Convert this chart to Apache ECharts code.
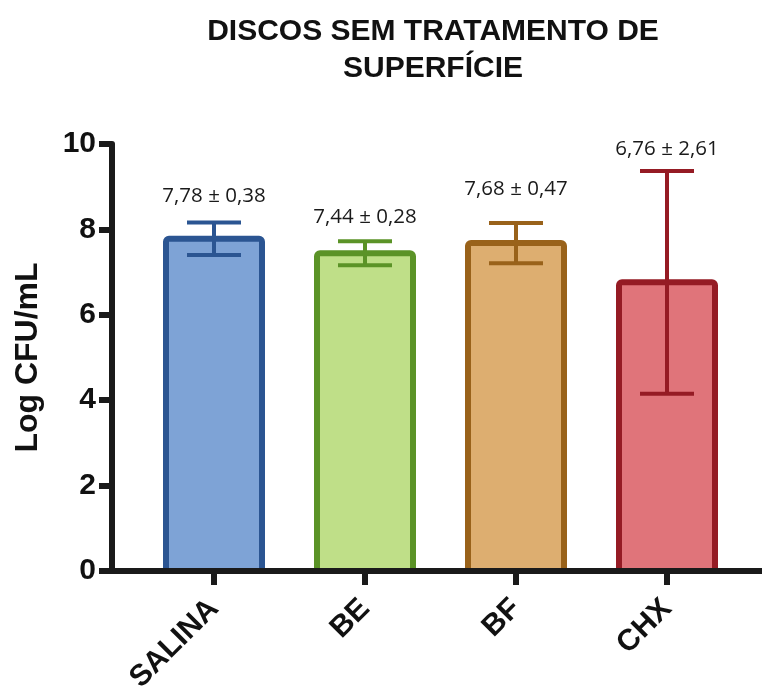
<!DOCTYPE html>
<html>
<head>
<meta charset="utf-8">
<script src="https://cdn.jsdelivr.net/npm/echarts@6/dist/echarts.min.js"></script>
<style>
  html, body { margin: 0; padding: 0; background: #ffffff; }
  #chart { width: 762px; height: 687px; }
</style>
</head>
<body>
<div id="chart"></div>
<script>
// Groups and their log CFU/mL results (mean ± SD)
const categories = ['SALINA', 'BE', 'BF', 'CHX'];
const means = [7.78, 7.44, 7.68, 6.76];
const sds = [0.38, 0.28, 0.47, 2.61];
const yTicks = [0, 2, 4, 6, 8, 10];

// Bar colours (fill, outline)
const fills = ['#7ea3d6', '#bfdf88', '#ddae70', '#e0747a'];
const outlines = ['#2b5592', '#5b9327', '#99621a', '#951b24'];
// Distance of each "mean ± SD" caption above its upper whisker cap
const captionLift = [16, 14, 23, 11];

const fmt = v => v.toFixed(2).replace('.', ',');
const captions = means.map((m, i) => fmt(m) + ' \u00b1 ' + fmt(sds[i]));

const axisColor = '#1a1a1a';
const gridTop = 144, gridBottom = 116;
const barHalf = 48;      // half width of a bar body (outline is centred on its edge)
const capHalf = 27;      // half width of a whisker cap

const chart = echarts.init(document.getElementById('chart'), null, { renderer: 'canvas' });

chart.setOption({
  backgroundColor: '#ffffff',
  animation: false,
  title: {
    text: 'DISCOS SEM TRATAMENTO DE\nSUPERFÍCIE',
    left: 428,
    top: 8,
    textAlign: 'center',
    textStyle: {
      fontFamily: 'Liberation Sans',
      fontWeight: 'bold',
      fontSize: 30,
      lineHeight: 37,
      color: '#111111'
    }
  },
  grid: [
    // frame grid: carries the y axis and the full-width baseline
    { left: 112, right: 0, top: gridTop, bottom: gridBottom, containLabel: false, outerBoundsMode: 'none' },
    // bar grid
    { left: 138.5, right: 19.5, top: gridTop, bottom: gridBottom, containLabel: false, outerBoundsMode: 'none' }
  ],
  xAxis: [
    {
      gridIndex: 0,
      type: 'value',
      min: 0,
      max: 1,
      z: 5,
      axisLine: { show: true, lineStyle: { color: axisColor, width: 6 } },
      axisTick: { show: false },
      axisLabel: { show: false },
      splitLine: { show: false }
    },
    {
      gridIndex: 1,
      type: 'category',
      data: categories,
      z: 5,
      axisLine: { show: false },
      axisTick: {
        show: true,
        alignWithLabel: true,
        length: 14,
        inside: false,
        lineStyle: { color: axisColor, width: 6 }
      },
      axisLabel: {
        rotate: 45,
        margin: 33,
        interval: 0,
        hideOverlap: false,
        fontFamily: 'Liberation Sans',
        fontWeight: 'bold',
        fontSize: 30,
        color: '#111111'
      },
      splitLine: { show: false }
    }
  ],
  yAxis: [
    {
      gridIndex: 0,
      type: 'value',
      min: yTicks[0],
      max: yTicks[yTicks.length - 1],
      interval: yTicks[1] - yTicks[0],
      z: 5,
      name: 'Log CFU/mL',
      nameLocation: 'middle',
      nameRotate: 90,
      nameGap: 68,
      nameTextStyle: {
        fontFamily: 'Liberation Sans',
        fontWeight: 'bold',
        fontSize: 32,
        color: '#111111'
      },
      axisLine: { show: true, lineStyle: { color: axisColor, width: 6 } },
      axisTick: { show: true, length: 13, lineStyle: { color: axisColor, width: 6 } },
      axisLabel: {
        margin: 16,
        fontFamily: 'Liberation Sans',
        fontWeight: 'bold',
        fontSize: 30,
        color: '#111111'
      },
      splitLine: { show: false }
    },
    {
      gridIndex: 1,
      type: 'value',
      min: yTicks[0],
      max: yTicks[yTicks.length - 1],
      show: false
    }
  ],
  series: [
    {
      // bars: filled body with a thick outline centred on its edge
      type: 'custom',
      xAxisIndex: 1,
      yAxisIndex: 1,
      z: 2,
      data: means.map((m, i) => [i, m]),
      renderItem: function (params, api) {
        const i = params.dataIndex;
        const top = api.coord([api.value(0), api.value(1)]);
        const base = api.coord([api.value(0), 0]);
        return {
          type: 'rect',
          shape: {
            x: top[0] - barHalf,
            y: top[1],
            width: barHalf * 2,
            height: base[1] - top[1],
            r: 3
          },
          style: { fill: fills[i], stroke: outlines[i], lineWidth: 6 }
        };
      }
    },
    {
      // whiskers (mean ± SD) and their captions
      type: 'custom',
      xAxisIndex: 1,
      yAxisIndex: 1,
      z: 4,
      data: means.map((m, i) => [i, m - sds[i], m + sds[i]]),
      renderItem: function (params, api) {
        const i = params.dataIndex;
        const lo = api.coord([api.value(0), api.value(1)]);
        const hi = api.coord([api.value(0), api.value(2)]);
        const cx = hi[0];
        const stroke = { stroke: outlines[i], lineWidth: 4 };
        return {
          type: 'group',
          children: [
            { type: 'line', shape: { x1: cx, y1: lo[1], x2: cx, y2: hi[1] }, style: stroke },
            { type: 'line', shape: { x1: cx - capHalf, y1: hi[1], x2: cx + capHalf, y2: hi[1] }, style: stroke },
            { type: 'line', shape: { x1: cx - capHalf, y1: lo[1], x2: cx + capHalf, y2: lo[1] }, style: stroke },
            {
              type: 'text',
              style: {
                text: captions[i],
                x: cx,
                y: hi[1] - captionLift[i],
                align: 'center',
                verticalAlign: 'bottom',
                fontFamily: 'Open Sans',
                fontSize: 20.5,
                fill: '#1a1a1a'
              }
            }
          ]
        };
      }
    }
  ]
});
</script>
</body>
</html>
